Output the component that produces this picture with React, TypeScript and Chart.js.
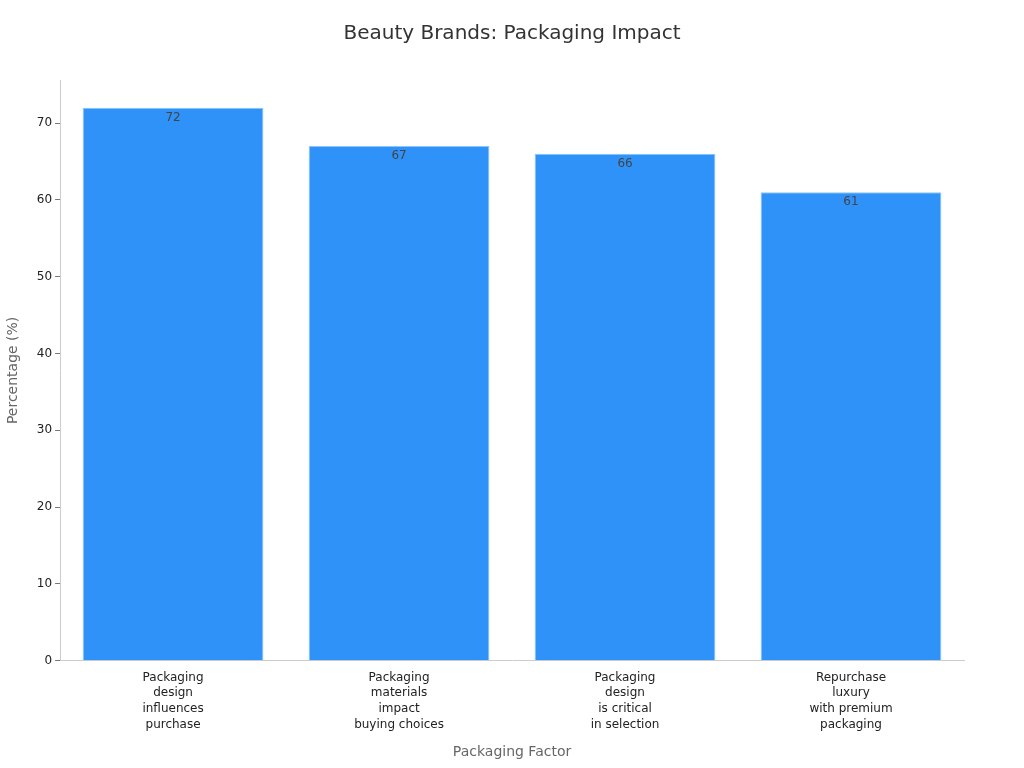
import React, { useEffect, useRef } from "react";
import { Chart, registerables } from "chart.js";

Chart.register(...registerables);

const categories: string[][] = [
  ["Packaging", "design", "influences", "purchase"],
  ["Packaging", "materials", "impact", "buying choices"],
  ["Packaging", "design", "is critical", "in selection"],
  ["Repurchase", "luxury", "with premium", "packaging"],
];
const values: number[] = [72, 67, 66, 61];
const chartTitle = "Beauty Brands: Packaging Impact";

const FONT = "'DejaVu Sans', sans-serif";

// value labels just inside the top of each bar, and a title centred on the page
const extras = {
  id: "extras",
  afterDatasetsDraw(chart: any) {
    const ctx = chart.ctx;
    const meta = chart.getDatasetMeta(0);
    ctx.save();
    ctx.font = `12px ${FONT}`;
    ctx.fillStyle = "#444444";
    ctx.textAlign = "center";
    ctx.textBaseline = "top";
    meta.data.forEach((bar: any, i: number) => {
      ctx.fillText(String(values[i]), bar.x, bar.y + 4);
    });
    ctx.font = `20px ${FONT}`;
    ctx.fillStyle = "#333333";
    ctx.textBaseline = "middle";
    ctx.fillText(chartTitle, chart.width / 2, 34);
    ctx.restore();
  },
};

const App: React.FC = () => {
  const canvasRef = useRef<HTMLCanvasElement>(null);

  useEffect(() => {
    document.body.style.margin = "0";
    if (!canvasRef.current) return;
    const ctx = canvasRef.current.getContext("2d")!;

    const chart = new Chart(ctx, {
      type: "bar",
      data: {
        labels: categories,
        datasets: [
          {
            data: values,
            backgroundColor: "#2f92f8",
            borderColor: "#8cc4fb",
            borderWidth: 1,
            barPercentage: 0.8,
            categoryPercentage: 1,
          },
        ],
      },
      options: {
        responsive: false,
        animation: false,
        layout: { padding: { left: 1, right: 60, top: 80, bottom: 3 } },
        plugins: {
          legend: { display: false },
          tooltip: { enabled: false },
          title: { display: false },
        },
        scales: {
          x: {
            grid: { display: false, drawTicks: true, tickLength: 5, tickColor: "#777777" },
            border: { color: "#cccccc" },
            ticks: {
              color: "#222222",
              font: { family: FONT, size: 12, lineHeight: 1.3 },
              padding: 4,
            },
            title: {
              display: true,
              text: "Packaging Factor",
              color: "#666666",
              font: { family: FONT, size: 14 },
              padding: { top: 8 },
            },
          },
          y: {
            min: 0,
            max: 75.6,
            afterBuildTicks: (axis: any) => {
              axis.ticks = axis.ticks.filter((t: any) => t.value % 10 === 0);
            },
            grid: { drawOnChartArea: false, tickLength: 5, tickColor: "#777777" },
            border: { color: "#cccccc" },
            ticks: {
              stepSize: 10,
              color: "#222222",
              font: { family: FONT, size: 12 },
              padding: 3,
            },
            title: {
              display: true,
              text: "Percentage (%)",
              color: "#666666",
              font: { family: FONT, size: 14 },
              padding: { top: 4, bottom: 12 },
            },
          },
        },
      },
      plugins: [extras],
    });

    return () => {
      chart.destroy();
    };
  }, []);

  return <canvas ref={canvasRef} width={1024} height={768}></canvas>;
};

export default App;
